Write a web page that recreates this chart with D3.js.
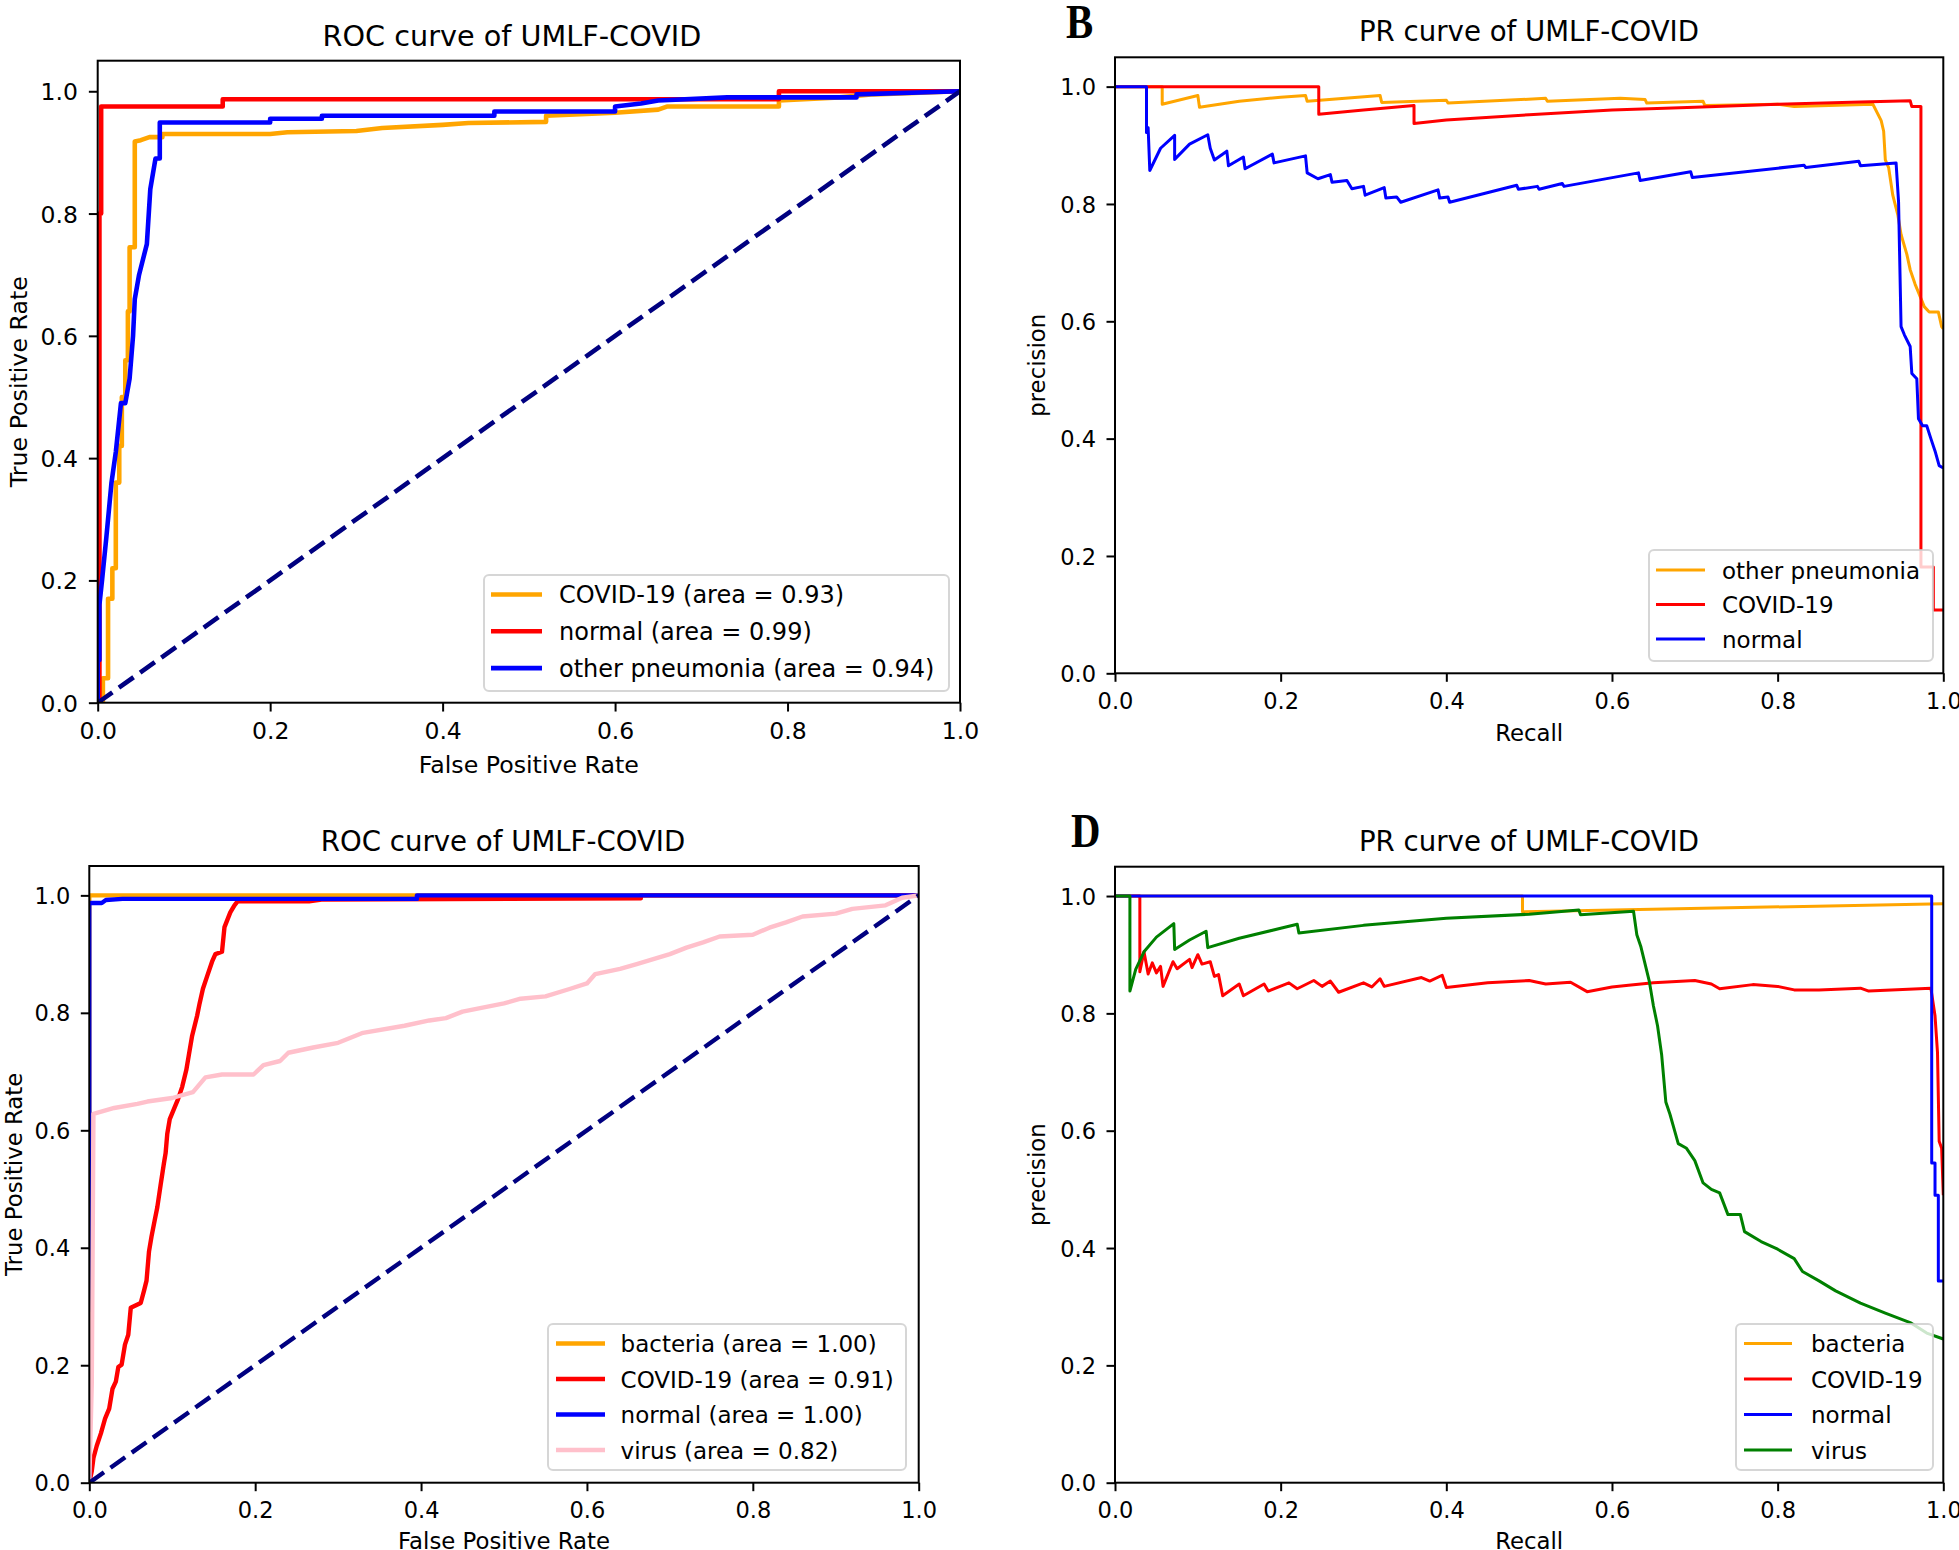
<!DOCTYPE html>
<html><head><meta charset="utf-8">
<script src="https://cdn.jsdelivr.net/npm/d3@7"></script>
<style>body{margin:0;background:#fff}svg{display:block}</style>
</head><body>
<svg id="c" width="1959" height="1550"></svg>
<script>
// ---------------- DATA ----------------
const tickValues = [0, 0.2, 0.4, 0.6, 0.8, 1.0];
const diagonal = [[0, 0], [1, 1]];

// Panel A: ROC, 3 classes
const rocA_labels = ["COVID-19 (area = 0.93)", "normal (area = 0.99)", "other pneumonia (area = 0.94)"];
const rocA_covid = [[0,0],[0.006,0],[0.006,0.04],[0.012,0.04],[0.012,0.17],[0.017,0.17],[0.017,0.22],[0.021,0.22],[0.021,0.36],[0.025,0.36],[0.025,0.42],[0.028,0.42],[0.028,0.5],[0.032,0.5],[0.032,0.56],[0.035,0.56],[0.035,0.64],[0.037,0.64],[0.037,0.745],[0.043,0.745],[0.043,0.918],[0.05,0.92],[0.06,0.925],[0.075,0.925],[0.075,0.93],[0.2,0.93],[0.22,0.933],[0.3,0.935],[0.33,0.94],[0.4,0.945],[0.43,0.948],[0.52,0.95],[0.52,0.96],[0.6,0.965],[0.65,0.97],[0.66,0.975],[0.79,0.975],[0.79,0.985],[0.86,0.99],[0.9,0.995],[1,1]];
const rocA_normal = [[0,0],[0.002,0],[0.002,0.8],[0.004,0.8],[0.004,0.975],[0.145,0.975],[0.145,0.987],[0.79,0.987],[0.79,1.0],[1,1]];
const rocA_other = [[0,0],[0,0.07],[0.002,0.07],[0.002,0.16],[0.005,0.2],[0.01,0.27],[0.016,0.36],[0.021,0.41],[0.027,0.49],[0.032,0.49],[0.037,0.53],[0.041,0.6],[0.043,0.66],[0.048,0.7],[0.057,0.75],[0.061,0.84],[0.067,0.89],[0.072,0.89],[0.072,0.949],[0.2,0.949],[0.2,0.955],[0.26,0.955],[0.26,0.96],[0.46,0.96],[0.46,0.967],[0.6,0.967],[0.6,0.975],[0.63,0.98],[0.65,0.985],[0.73,0.99],[0.88,0.99],[0.88,0.995],[1,1]];

// Panel B: PR, 3 classes
const prB_labels = ["other pneumonia", "COVID-19", "normal"];
const prB_other = [[0,1],[0.057,1],[0.057,0.97],[0.1,0.985],[0.102,0.965],[0.15,0.975],[0.2,0.982],[0.23,0.985],[0.232,0.975],[0.32,0.985],[0.322,0.973],[0.4,0.977],[0.402,0.972],[0.52,0.98],[0.522,0.975],[0.61,0.98],[0.64,0.978],[0.642,0.972],[0.71,0.975],[0.712,0.968],[0.8,0.97],[0.82,0.966],[0.915,0.97],[0.925,0.942],[0.928,0.924],[0.93,0.875],[0.934,0.862],[0.939,0.815],[0.945,0.782],[0.949,0.748],[0.956,0.714],[0.96,0.688],[0.966,0.663],[0.971,0.646],[0.977,0.625],[0.983,0.616],[0.994,0.616],[0.998,0.591],[1.0,0.587]];
const prB_covid = [[0,1],[0.246,1],[0.246,0.953],[0.3,0.96],[0.361,0.968],[0.361,0.937],[0.4,0.943],[0.5,0.952],[0.6,0.96],[0.7,0.965],[0.8,0.97],[0.9,0.974],[0.96,0.976],[0.962,0.966],[0.973,0.966],[0.973,0.181],[0.988,0.181],[0.988,0.108],[1,0.108]];
const prB_normal = [[0,1],[0.038,1],[0.038,0.922],[0.04,0.93],[0.042,0.857],[0.055,0.895],[0.072,0.917],[0.072,0.876],[0.09,0.902],[0.112,0.918],[0.115,0.895],[0.12,0.875],[0.135,0.89],[0.137,0.865],[0.155,0.88],[0.157,0.86],[0.19,0.885],[0.192,0.87],[0.23,0.882],[0.232,0.853],[0.245,0.843],[0.26,0.85],[0.262,0.837],[0.28,0.84],[0.286,0.826],[0.3,0.83],[0.302,0.815],[0.325,0.828],[0.327,0.81],[0.34,0.812],[0.345,0.803],[0.39,0.824],[0.392,0.81],[0.402,0.812],[0.404,0.803],[0.485,0.832],[0.487,0.825],[0.51,0.83],[0.512,0.825],[0.54,0.835],[0.542,0.83],[0.632,0.853],[0.634,0.84],[0.695,0.855],[0.697,0.845],[0.832,0.866],[0.834,0.862],[0.898,0.873],[0.9,0.865],[0.943,0.87],[0.946,0.803],[0.949,0.591],[0.953,0.577],[0.96,0.557],[0.962,0.511],[0.968,0.502],[0.97,0.434],[0.975,0.422],[0.98,0.422],[0.985,0.4],[0.99,0.379],[0.995,0.354],[1.0,0.35]];

// Panel C: ROC, 4 classes
const rocC_labels = ["bacteria (area = 1.00)", "COVID-19 (area = 0.91)", "normal (area = 1.00)", "virus (area = 0.82)"];
const rocC_bacteria = [[0,0],[0,1],[1,1]];
const rocC_covid = [[0,0],[0.003,0.02],[0.005,0.042],[0.009,0.063],[0.014,0.084],[0.019,0.109],[0.024,0.126],[0.028,0.16],[0.032,0.172],[0.035,0.197],[0.039,0.201],[0.043,0.235],[0.047,0.252],[0.05,0.298],[0.062,0.306],[0.066,0.327],[0.069,0.344],[0.072,0.394],[0.075,0.419],[0.079,0.448],[0.082,0.469],[0.086,0.507],[0.09,0.544],[0.092,0.561],[0.094,0.594],[0.097,0.619],[0.102,0.636],[0.107,0.653],[0.112,0.674],[0.117,0.703],[0.12,0.728],[0.124,0.761],[0.13,0.795],[0.133,0.816],[0.137,0.841],[0.142,0.862],[0.148,0.887],[0.152,0.9],[0.16,0.904],[0.163,0.946],[0.17,0.971],[0.175,0.983],[0.179,0.99],[0.265,0.99],[0.28,0.993],[0.665,0.995],[0.665,1.0],[1,1]];
const rocC_normal = [[0,0],[0,0.987],[0.015,0.987],[0.02,0.992],[0.04,0.994],[0.395,0.994],[0.395,1.0],[1,1]];
const rocC_virus = [[0,0],[0.003,0.17],[0.004,0.396],[0.005,0.628],[0.03,0.638],[0.058,0.645],[0.07,0.649],[0.1,0.655],[0.125,0.665],[0.14,0.69],[0.16,0.695],[0.198,0.695],[0.21,0.711],[0.23,0.718],[0.24,0.732],[0.27,0.741],[0.3,0.749],[0.33,0.766],[0.38,0.778],[0.41,0.787],[0.43,0.791],[0.45,0.802],[0.5,0.816],[0.52,0.824],[0.55,0.828],[0.58,0.841],[0.6,0.85],[0.61,0.866],[0.64,0.875],[0.66,0.883],[0.7,0.9],[0.72,0.911],[0.74,0.92],[0.76,0.93],[0.8,0.933],[0.82,0.945],[0.84,0.954],[0.86,0.964],[0.9,0.969],[0.92,0.977],[0.96,0.983],[0.98,0.996],[1,1]];

// Panel D: PR, 4 classes
const prD_labels = ["bacteria", "COVID-19", "normal", "virus"];
const prD_bacteria = [[0,1],[0.492,1],[0.492,0.973],[1,0.987]];
const prD_covid = [[0,1],[0.03,1],[0.03,0.871],[0.035,0.905],[0.04,0.867],[0.045,0.886],[0.05,0.869],[0.055,0.88],[0.058,0.846],[0.07,0.888],[0.075,0.876],[0.09,0.892],[0.093,0.878],[0.1,0.9],[0.105,0.884],[0.115,0.888],[0.12,0.863],[0.125,0.866],[0.13,0.83],[0.15,0.85],[0.155,0.83],[0.18,0.85],[0.185,0.838],[0.21,0.852],[0.22,0.842],[0.24,0.856],[0.25,0.846],[0.26,0.855],[0.27,0.836],[0.3,0.852],[0.31,0.845],[0.32,0.859],[0.325,0.846],[0.37,0.861],[0.38,0.855],[0.395,0.865],[0.4,0.844],[0.45,0.852],[0.5,0.856],[0.52,0.85],[0.55,0.853],[0.57,0.837],[0.6,0.845],[0.62,0.848],[0.65,0.852],[0.7,0.856],[0.72,0.85],[0.73,0.842],[0.77,0.849],[0.8,0.846],[0.82,0.84],[0.85,0.84],[0.9,0.843],[0.91,0.838],[0.985,0.843],[0.99,0.796],[0.993,0.733],[0.995,0.582],[0.998,0.57],[1.0,0.49]];
const prD_normal = [[0,1],[0.986,1],[0.986,0.545],[0.99,0.545],[0.99,0.49],[0.994,0.49],[0.994,0.344],[1,0.344]];
const prD_virus = [[0,1],[0.018,1],[0.018,0.838],[0.025,0.875],[0.035,0.905],[0.05,0.93],[0.071,0.953],[0.072,0.909],[0.09,0.925],[0.11,0.94],[0.112,0.912],[0.15,0.928],[0.2,0.945],[0.22,0.952],[0.222,0.937],[0.3,0.95],[0.4,0.962],[0.5,0.969],[0.56,0.976],[0.562,0.968],[0.626,0.974],[0.63,0.934],[0.635,0.913],[0.64,0.884],[0.645,0.855],[0.65,0.813],[0.655,0.779],[0.66,0.729],[0.665,0.649],[0.67,0.628],[0.675,0.603],[0.68,0.578],[0.69,0.57],[0.7,0.549],[0.71,0.511],[0.72,0.5],[0.73,0.494],[0.74,0.457],[0.755,0.457],[0.76,0.428],[0.78,0.411],[0.8,0.398],[0.82,0.382],[0.83,0.36],[0.85,0.344],[0.87,0.327],[0.9,0.306],[0.93,0.289],[0.96,0.273],[0.98,0.255],[1.0,0.245]];

const C_ORANGE = "#ffa500", C_RED = "#ff0000", C_BLUE = "#0000ff", C_PINK = "#ffc0cb", C_GREEN = "#008000", C_NAVY = "#000080";

// ---------------- DRAW ----------------
const FONT = "'DejaVu Sans', Verdana, sans-serif";
const svg = d3.select("#c");
svg.append("rect").attr("width", 1959).attr("height", 1550).attr("fill", "#fff");
const defs = svg.append("defs");

function panel(cfg) {
  const s = cfg.scale;
  const x = d3.scaleLinear().domain([0, 1]).range([cfg.left, cfg.right]);
  const y = d3.scaleLinear().domain([0, 1.05]).range([cfg.bottom, cfg.top]);
  const g = svg.append("g");
  defs.append("clipPath").attr("id", "clip" + cfg.id).append("rect")
    .attr("x", cfg.left).attr("y", cfg.top)
    .attr("width", cfg.right - cfg.left).attr("height", cfg.bottom - cfg.top);
  const lg = g.append("g").attr("clip-path", `url(#clip${cfg.id})`);
  const line = d3.line().x(d => x(d[0])).y(d => y(d[1]));
  cfg.series.forEach(sr => {
    lg.append("path").attr("d", line(sr.data)).attr("fill", "none")
      .attr("stroke", sr.color).attr("stroke-width", cfg.lw)
      .attr("stroke-linejoin", "round").attr("stroke-linecap", "butt");
  });
  if (cfg.diag) {
    lg.append("path").attr("d", line(diagonal)).attr("fill", "none")
      .attr("stroke", C_NAVY).attr("stroke-width", cfg.lw)
      .attr("stroke-dasharray", "18,8");
  }
  // axes
  const fmt = d3.format(".1f");
  const xa = g.append("g").attr("transform", `translate(0,${cfg.bottom})`)
    .call(d3.axisBottom(x).tickValues(tickValues).tickFormat(fmt).tickSize(8.5 * s).tickSizeOuter(0));
  const ya = g.append("g").attr("transform", `translate(${cfg.left},0)`)
    .call(d3.axisLeft(y).tickValues(tickValues).tickFormat(fmt).tickSize(8.5 * s).tickSizeOuter(0));
  [xa, ya].forEach(a => {
    a.select(".domain").remove();
    a.selectAll(".tick line").attr("stroke", "#000").attr("stroke-width", 2);
    a.selectAll(".tick text").attr("fill", "#000").attr("font-family", FONT)
      .attr("font-size", cfg.tickFs);
  });
  xa.selectAll(".tick text").attr("y", cfg.tickDy).attr("dy", null);
  ya.selectAll(".tick text").attr("x", -19 * s).attr("dy", "0.36em");
  // spines
  g.append("rect").attr("x", cfg.left).attr("y", cfg.top)
    .attr("width", cfg.right - cfg.left).attr("height", cfg.bottom - cfg.top)
    .attr("fill", "none").attr("stroke", "#000").attr("stroke-width", 2);
  // title & labels
  g.append("text").attr("x", cfg.titleX).attr("y", cfg.titleY)
    .attr("text-anchor", "middle").attr("font-family", FONT).attr("font-size", cfg.titleFs)
    .attr("fill", "#000").text(cfg.title);
  g.append("text").attr("x", (cfg.left + cfg.right) / 2).attr("y", cfg.xlabelY)
    .attr("text-anchor", "middle").attr("font-family", FONT).attr("font-size", cfg.labelFs)
    .attr("fill", "#000").text(cfg.xlabel);
  g.append("text").attr("transform", `translate(${cfg.ylabelX},${(cfg.top + cfg.bottom) / 2}) rotate(-90)`)
    .attr("text-anchor", "middle").attr("font-family", FONT).attr("font-size", cfg.labelFs)
    .attr("fill", "#000").text(cfg.ylabel);
  // legend
  const L = cfg.legend;
  const leg = g.append("g");
  leg.append("rect").attr("x", L.x0).attr("y", L.y0).attr("width", L.x1 - L.x0).attr("height", L.y1 - L.y0)
    .attr("rx", 5).attr("fill", "#fff").attr("fill-opacity", 0.8)
    .attr("stroke", "#cccccc").attr("stroke-opacity", 0.8).attr("stroke-width", 2);
  cfg.series.forEach((sr, i) => {
    const yy = L.firstY + i * L.step;
    leg.append("line").attr("x1", L.lx0).attr("x2", L.lx1).attr("y1", yy).attr("y2", yy)
      .attr("stroke", sr.color).attr("stroke-width", cfg.lw);
    leg.append("text").attr("x", L.tx).attr("y", yy).attr("dy", "0.37em")
      .attr("font-family", FONT).attr("font-size", L.fs).attr("fill", "#000").text(cfg.labels[i]);
  });
  if (cfg.letter) {
    g.append("text").attr("transform", `translate(${cfg.letter.x},${cfg.letter.y}) scale(0.85,1)`)
      .attr("font-family", "'Liberation Serif', 'DejaVu Serif', serif").attr("font-weight", "bold")
      .attr("font-size", 48).attr("fill", "#000").text(cfg.letter.t);
  }
}

panel({
  id: "A", scale: 1.04, left: 97.7, right: 960, top: 60.7, bottom: 702.7, lw: 4.6, diag: true,
  tickFs: 23.5, tickDy: 36.3, titleFs: 28.7, labelFs: 23.7,
  title: "ROC curve of UMLF-COVID", titleX: 512, titleY: 46, xlabel: "False Positive Rate", xlabelY: 773,
  ylabel: "True Positive Rate", ylabelX: 27,
  labels: rocA_labels,
  series: [{data: rocA_covid, color: C_ORANGE}, {data: rocA_normal, color: C_RED}, {data: rocA_other, color: C_BLUE}],
  legend: {x0: 484, x1: 949, y0: 575, y1: 691, firstY: 594.5, step: 36.8, lx0: 491, lx1: 542, tx: 559, fs: 24}
});
panel({
  id: "B", scale: 1, left: 1115, right: 1943.3, top: 57.3, bottom: 673.3, lw: 3,
  tickFs: 22.5, tickDy: 35.3, titleFs: 27.6, labelFs: 22.8,
  title: "PR curve of UMLF-COVID", titleX: 1529, titleY: 41, xlabel: "Recall", xlabelY: 741,
  ylabel: "precision", ylabelX: 1045,
  labels: prB_labels,
  series: [{data: prB_other, color: C_ORANGE}, {data: prB_covid, color: C_RED}, {data: prB_normal, color: C_BLUE}],
  legend: {x0: 1649, x1: 1933, y0: 550, y1: 661, firstY: 570, step: 34.5, lx0: 1656, lx1: 1705, tx: 1722, fs: 23},
  letter: {t: "B", x: 1066, y: 38}
});
panel({
  id: "C", scale: 1, left: 89.3, right: 918.7, top: 866, bottom: 1482.7, lw: 4.4, diag: true,
  tickFs: 22.5, tickDy: 35.6, titleFs: 27.6, labelFs: 22.8,
  title: "ROC curve of UMLF-COVID", titleX: 503, titleY: 851, xlabel: "False Positive Rate", xlabelY: 1549,
  ylabel: "True Positive Rate", ylabelX: 22,
  labels: rocC_labels,
  series: [{data: rocC_bacteria, color: C_ORANGE}, {data: rocC_covid, color: C_RED}, {data: rocC_normal, color: C_BLUE}, {data: rocC_virus, color: C_PINK}],
  legend: {x0: 548, x1: 906, y0: 1324, y1: 1470, firstY: 1343.5, step: 35.5, lx0: 556, lx1: 605, tx: 620.6, fs: 23}
});
panel({
  id: "D", scale: 1, left: 1115, right: 1943.3, top: 866.7, bottom: 1482.7, lw: 3,
  tickFs: 22.5, tickDy: 35.6, titleFs: 27.6, labelFs: 22.8,
  title: "PR curve of UMLF-COVID", titleX: 1529, titleY: 851, xlabel: "Recall", xlabelY: 1549,
  ylabel: "precision", ylabelX: 1045,
  labels: prD_labels,
  series: [{data: prD_bacteria, color: C_ORANGE}, {data: prD_covid, color: C_RED}, {data: prD_normal, color: C_BLUE}, {data: prD_virus, color: C_GREEN}],
  legend: {x0: 1736, x1: 1933, y0: 1324, y1: 1470, firstY: 1343.5, step: 35.5, lx0: 1744, lx1: 1792, tx: 1811, fs: 23},
  letter: {t: "D", x: 1071, y: 847}
});
</script>
</body></html>
